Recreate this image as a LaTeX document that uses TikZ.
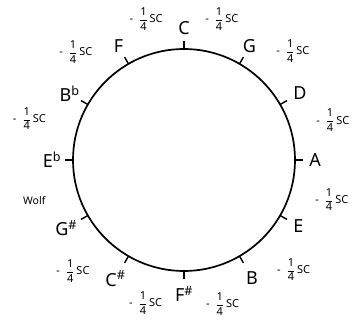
\documentclass[tikz,border=0pt]{standalone}
\usepackage{amsmath}
\usepackage{fontspec}
\setmainfont{Noto Sans}
\usetikzlibrary{positioning}
\newcommand{\quartersc}{-\; \ensuremath{\dfrac{\mbox{1}}{\mbox{4}}}\,SC}

\begin{document}
\begin{tikzpicture}[
  x=1pt, y=1pt,
  notelabel/.style={font=\fontsize{18}{20}\selectfont, inner sep=0pt},
  commalabel/.style={font=\fontsize{11}{13}\selectfont, inner sep=0pt},
  wolflabel/.style={font=\fontsize{10.5}{12}\selectfont, inner sep=0pt},
  fifthtick/.style={line width=1.4pt}
]
  \useasboundingbox (-184,-161) rectangle (171,160);
  \draw[line width=1.7pt] (0,0) circle (111);
  % notes of the circle of fifths
  \foreach \ang/\nm/\lbl/\rad in {90/c/C/132, 60/g/G/131, 30/d/D/134, 0/a/A/131,
      -30/e/E/132, -60/b/B/136, -90/fs/F\textsuperscript{\#}/134, -120/cs/C\textsuperscript{\#}/137,
      -150/gs/G\textsuperscript{\#}/136, 180/eb/E\textsuperscript{b}/132, 150/bb/B\textsuperscript{b}/132, 120/f/F/131} {
    \coordinate (in-\nm) at (\ang:111);
    \coordinate (out-\nm) at (\ang:119);
    \draw[fifthtick] (in-\nm) -- (out-\nm);
    \node[notelabel] (note-\nm) at (\ang:\rad) {\lbl};
  }
  % tempering of each fifth
  \foreach \ang/\rad in {105/146, 75/146, 45/154, 15/154, -15/153, -45/155,
      -75/149, -105/148, -135/157, 165/160, 135/153} {
    \node[commalabel] at (\ang:\rad) {\quartersc};
  }
  \node[wolflabel] (wolf) at (-165:155) {Wolf};
\end{tikzpicture}
\end{document}
